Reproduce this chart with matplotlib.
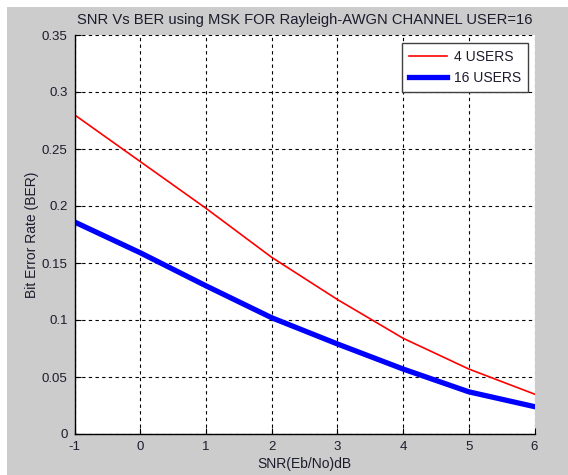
import matplotlib
matplotlib.use("Agg")
import matplotlib.pyplot as plt
from matplotlib.patches import Rectangle

# values
snr_db = [-1, 0, 1, 2, 3, 4, 5, 6]
ber_4_users = [0.280, 0.239, 0.198, 0.155, 0.118, 0.084, 0.057, 0.035]
ber_16_users = [0.186, 0.159, 0.130, 0.102, 0.079, 0.057, 0.037, 0.024]
x_ticks = [-1, 0, 1, 2, 3, 4, 5, 6]
y_ticks = [0, 0.05, 0.1, 0.15, 0.2, 0.25, 0.3, 0.35]
y_tick_labels = ["0", "0.05", "0.1", "0.15", "0.2", "0.25", "0.3", "0.35"]

plt.rcParams['font.family'] = ['Liberation Sans', 'DejaVu Sans']
plt.rcParams['axes.unicode_minus'] = False
text_color = '#1c1c2e'

fig = plt.figure(figsize=(5.68, 4.75), dpi=100, facecolor='white')
# grey matlab figure window, with a thin white strip on top and left
fig.patches.append(Rectangle((7 / 568, 0), 1, 1 - 7 / 475, transform=fig.transFigure,
                             facecolor='#cccccc', edgecolor='none', zorder=-1))

ax = fig.add_axes([74.5 / 568, 41 / 475, 460 / 568, 399 / 475])
ax.set_facecolor('white')

ax.plot(snr_db, ber_4_users, color='#ff0000', lw=1.2, label='4 USERS')
ax.plot(snr_db, ber_16_users, color='#0000ff', lw=3.8, label='16 USERS')

ax.set_xlim(-1, 6)
ax.set_ylim(0, 0.35)
ax.set_xticks(x_ticks)
ax.set_yticks(y_ticks)
ax.set_yticklabels(y_tick_labels)

ax.grid(True, color='black', linestyle=(0, (3, 3)), linewidth=0.8)
for side in ['top', 'right']:
    ax.spines[side].set_visible(False)
for side in ['left', 'bottom']:
    ax.spines[side].set_color('black')
    ax.spines[side].set_linewidth(1.0)

ax.tick_params(direction='in', length=4, width=0.8, labelsize=9.5,
               labelcolor=text_color, pad=5)

ax.set_title('SNR Vs BER using MSK FOR Rayleigh-AWGN CHANNEL USER=16',
             fontsize=10.6, color=text_color, pad=8)
ax.set_xlabel('SNR(Eb/No)dB', fontsize=10, color=text_color, labelpad=3)
ax.set_ylabel('Bit Error Rate (BER)', fontsize=10, color=text_color, labelpad=2)

leg = ax.legend(loc='upper right', bbox_to_anchor=(0.985, 0.979), borderaxespad=0,
                fontsize=10, handlelength=2.7, fancybox=False, framealpha=1,
                edgecolor='#404040', borderpad=0.5, labelspacing=0.5, handletextpad=0.5)
leg.get_frame().set_linewidth(1.0)
for t in leg.get_texts():
    t.set_color(text_color)

fig.savefig('out.png', dpi=100, facecolor=fig.get_facecolor())
